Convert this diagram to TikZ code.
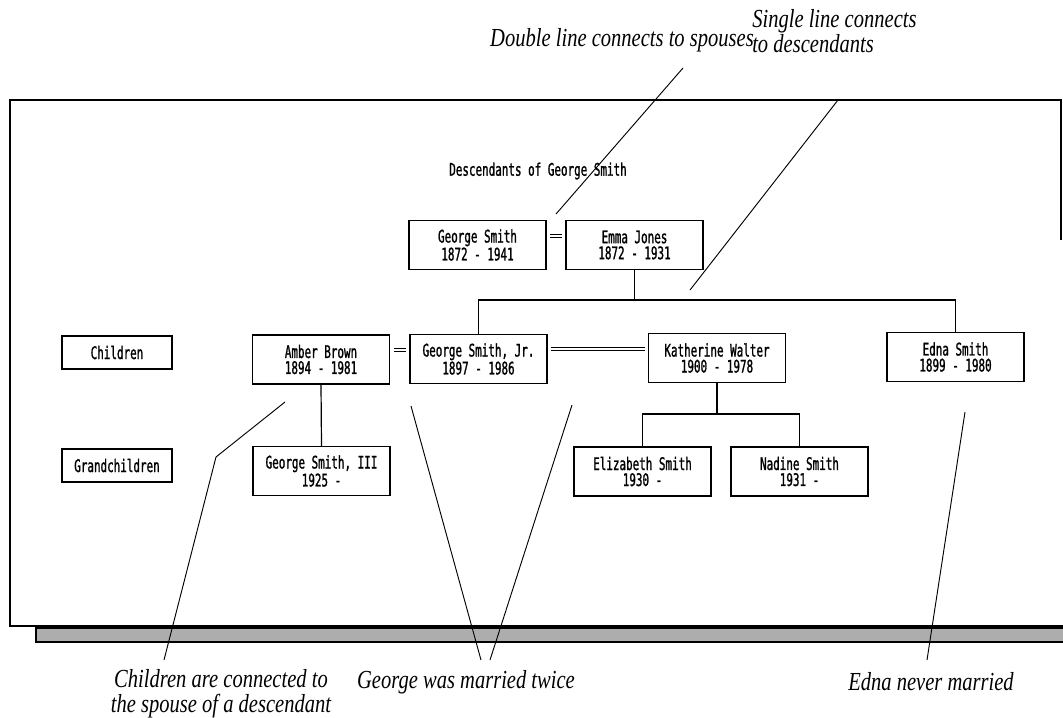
\documentclass[tikz,border=0pt]{standalone}
\usepackage{fontspec}
\newfontfamily\boxfont[FakeStretch=0.63, FakeBold=1.2]{DejaVu Sans Mono}
\newfontfamily\notefont[FakeStretch=0.79]{Liberation Serif}
\usetikzlibrary{positioning, calc}

\begin{document}
\begin{tikzpicture}[x=0.75pt, y=-0.75pt,
  person/.style={draw, line width=1pt, minimum width=102.75pt, minimum height=36.75pt,
    inner sep=0pt, align=center, font=\boxfont\fontsize{13}{12}\selectfont},
  rowlabel/.style={draw, line width=1pt, minimum width=82.5pt, minimum height=24.75pt,
    inner sep=0pt, font=\boxfont\fontsize{13}{12}\selectfont},
  spouse/.style={double, double distance=1.8pt, line width=0.6pt, shorten <=2.5pt, shorten >=2.5pt},
  kin/.style={line width=0.9pt},
  note/.style={inner sep=0pt, align=center, font=\notefont\itshape\fontsize{19.5}{18.5}\selectfont},
  pointer/.style={line width=0.7pt}]
\useasboundingbox (0,0) rectangle (1063,717);

% Window with its shadow
\draw[line width=1.2pt] (1061,240) -- (1061,100) -- (10,100) -- (10,626) -- (1063,626);
\filldraw[fill=black!32, line width=1pt] (1063,628) -- (36,628) -- (36,642) -- (1063,642);

% Title
\node[font=\boxfont\fontsize{13}{12}\selectfont] (title) at (538,171) {Descendants of George Smith};

% Generations
\node[rowlabel] (children) at (117,352.5) {Children};
\node[rowlabel] (grandch) at (117,465.5) {Grandchildren};

% Parents
\node[person] (gs) at (477.5,245) {George Smith\\1872 - 1941};
\node[person] (ej) at (634.5,245) {Emma Jones\\1872 - 1931};

% Children and their spouses
\node[person] (ab) at (321,359.5) {Amber Brown\\1894 - 1981};
\node[person] (gj) at (478.5,359) {George Smith, Jr.\\1897 - 1986};
\node[person] (kw) at (717,358) {Katherine Walter\\1900 - 1978};
\node[person] (es) at (955.5,357) {Edna Smith\\1899 - 1980};

% Grandchildren
\node[person] (g3) at (321.5,471) {George Smith, III\\1925 -};
\node[person] (el) at (642.5,471.5) {Elizabeth Smith\\1930 -};
\node[person] (ns) at (799.5,471.5) {Nadine Smith\\1931 -};

% Marriages
\draw[spouse] (gs.east |- 0,236) -- (ej.west |- 0,236);
\draw[spouse] (ab.east |- 0,350) -- (gj.west |- 0,350);
\draw[spouse] (gj.east |- 0,349) -- (kw.west |- 0,349);

% Descent
\coordinate (fork1) at (ej.south |- 0,300);
\coordinate (fork2) at (kw.south |- 0,414);
\draw[kin] (ej.south) -- (fork1);
\draw[kin] (gj.north) |- (fork1) -| (es.north);
\draw[kin] (kw.south) -- (fork2);
\draw[kin] (el.north) |- (fork2) -| (ns.north);
\draw[kin] (ab.south) -- (g3.north);

% Notes
\node[note] (n1) at (622,40) {Double line connects to spouses};
\node[note, align=left, anchor=west] (n2) at (752,31) {Single line connects\\to descendants};
\node[note] (n3) at (221,694) {Children are connected to\\the spouse of a descendant};
\node[note] (n4) at (466,682) {George was married twice};
\node[note] (n5) at (931,682) {Edna never married};

% Pointers
\coordinate (p1a) at (683,68);  \coordinate (p1b) at (556,214);
\coordinate (p2a) at (838,100); \coordinate (p2b) at (690,290);
\coordinate (p3a) at (164,660); \coordinate (p3k) at (216,457); \coordinate (p3b) at (285,402);
\coordinate (p4a) at (481,660); \coordinate (p4b) at (411,406);
\coordinate (p5a) at (490,660); \coordinate (p5b) at (572,405);
\coordinate (p6a) at (927,660); \coordinate (p6b) at (965,412);
\draw[pointer] (p1a) -- (p1b);
\draw[pointer] (p2a) -- (p2b);
\draw[pointer] (p3a) -- (p3k) -- (p3b);
\draw[pointer] (p4a) -- (p4b);
\draw[pointer] (p5a) -- (p5b);
\draw[pointer] (p6a) -- (p6b);
\end{tikzpicture}
\end{document}
